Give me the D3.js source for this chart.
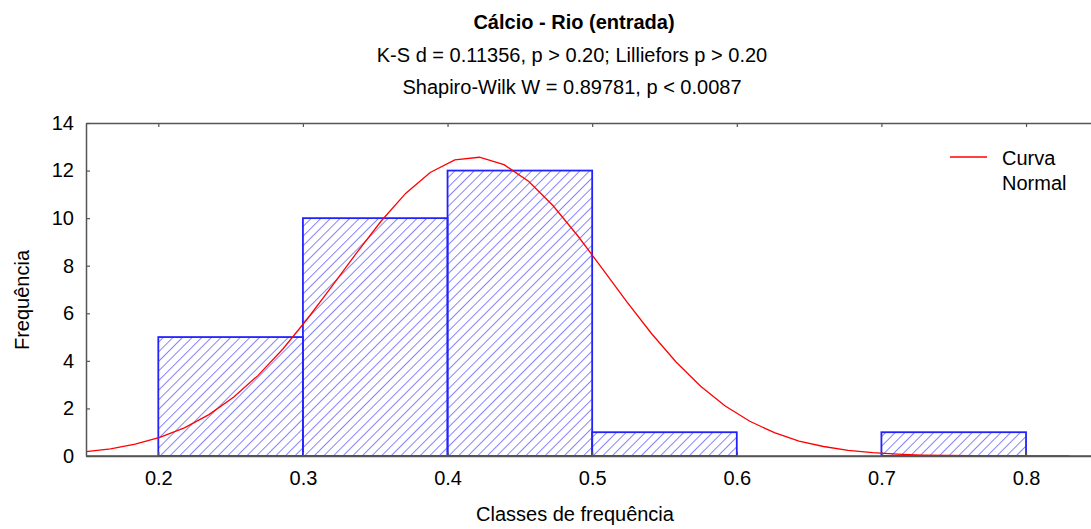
<!DOCTYPE html>
<html>
<head>
<meta charset="utf-8">
<script src="https://cdn.jsdelivr.net/npm/d3@7"></script>
<style>
  body { margin: 0; background: #fff; }
  svg text { font-family: "Liberation Sans", Arial, sans-serif; fill: #000; }
</style>
</head>
<body>
<svg id="chart" width="1091" height="529"></svg>
<script>
// Histogram classes (lower edge of each class) and their frequencies.
var classStart = [0.2, 0.3, 0.4, 0.5, 0.6, 0.7];
var classWidth = 0.1;
var counts = [5, 10, 12, 1, 0, 1];

// Fitted normal curve.
var curveX = [0.150, 0.167, 0.184, 0.201, 0.218, 0.235, 0.252, 0.269, 0.286, 0.303,
              0.320, 0.337, 0.354, 0.371, 0.388, 0.405, 0.422, 0.439, 0.456, 0.473,
              0.490, 0.507, 0.524, 0.541, 0.558, 0.575, 0.592, 0.609, 0.626, 0.643,
              0.660, 0.677, 0.694, 0.711, 0.728, 0.745, 0.762, 0.779, 0.796, 0.813, 0.830];
var curveY = [0.18, 0.30, 0.50, 0.78, 1.18, 1.74, 2.47, 3.39, 4.49, 5.76,
              7.13, 8.53, 9.87, 11.04, 11.92, 12.45, 12.56, 12.25, 11.55, 10.52,
              9.26, 7.88, 6.48, 5.15, 3.95, 2.93, 2.10, 1.46, 0.98, 0.63,
              0.40, 0.24, 0.14, 0.08, 0.04, 0.02, 0.01, 0.006, 0.003, 0.001, 0.0005];

var xTicks = [0.2, 0.3, 0.4, 0.5, 0.6, 0.7, 0.8];
var yTicks = [0, 2, 4, 6, 8, 10, 12, 14];

var titleLines = ['K-S d = 0.11356, p > 0.20; Lilliefors p > 0.20',
                  'Shapiro-Wilk W = 0.89781, p < 0.0087'];

var svg = d3.select('#chart');
var plotLeft = 86, plotRight = 1091, plotTop = 123, plotBottom = 456;

var x = d3.scaleLinear().domain([0.15, 0.8 + (plotRight - 1026) / 1447]).range([plotLeft, plotRight]);
var y = d3.scaleLinear().domain([0, 14]).range([plotBottom, plotTop]);

// Hatch pattern for the bars.
var defs = svg.append('defs');
var pat = defs.append('pattern')
  .attr('id', 'hatch')
  .attr('patternUnits', 'userSpaceOnUse')
  .attr('width', 6.8)
  .attr('height', 6.8)
  .attr('patternTransform', 'rotate(45)');
pat.append('line')
  .attr('x1', 0).attr('y1', 0)
  .attr('x2', 0).attr('y2', 6.8)
  .attr('stroke', '#4545ff')
  .attr('stroke-width', 1.3);

defs.append('clipPath').attr('id', 'plot-clip')
  .append('rect')
  .attr('x', plotLeft).attr('y', plotTop)
  .attr('width', plotRight - plotLeft).attr('height', plotBottom - plotTop);

// Bars.
var bars = classStart.map(function(s, i) { return { x0: s, x1: s + classWidth, n: counts[i] }; })
  .filter(function(d) { return d.n > 0; });

svg.append('g').selectAll('rect')
  .data(bars)
  .enter().append('rect')
    .attr('x', function(d) { return x(d.x0); })
    .attr('y', function(d) { return y(d.n); })
    .attr('width', function(d) { return x(d.x1) - x(d.x0); })
    .attr('height', function(d) { return y(0) - y(d.n); })
    .attr('fill', 'url(#hatch)')
    .attr('stroke', '#2222ff')
    .attr('stroke-width', 1.8);

// Normal curve.
var line = d3.line()
  .x(function(d, i) { return x(curveX[i]); })
  .y(function(d) { return y(d); });

svg.append('path')
  .datum(curveY)
  .attr('clip-path', 'url(#plot-clip)')
  .attr('d', line)
  .attr('fill', 'none')
  .attr('stroke', '#ff0000')
  .attr('stroke-width', 1.3);

// Axes.
var axisColor = '#555';
var gy = svg.append('g')
  .attr('transform', 'translate(' + plotLeft + ',0)')
  .call(d3.axisLeft(y).tickValues(yTicks).tickSize(-4).tickSizeOuter(0).tickPadding(12));
var gx = svg.append('g')
  .attr('transform', 'translate(0,' + plotBottom + ')')
  .call(d3.axisBottom(x).tickValues(xTicks).tickFormat(d3.format('.1f'))
    .tickSize(-4).tickSizeOuter(0).tickPadding(15));
var gt = svg.append('g')
  .attr('transform', 'translate(0,' + plotTop + ')')
  .call(d3.axisTop(x).tickValues(xTicks).tickFormat('')
    .tickSize(-4).tickSizeOuter(0));

[gx, gy, gt].forEach(function(g) {
  g.selectAll('.domain').attr('stroke', axisColor).attr('stroke-width', 1.5);
  g.selectAll('.tick line').attr('stroke', axisColor).attr('stroke-width', 1.2);
  g.selectAll('text').attr('font-size', 20).attr('fill', '#000')
    .attr('font-family', '"Liberation Sans", Arial, sans-serif');
});

// Baseline runs right to the edge of the picture.
svg.append('line')
  .attr('x1', plotLeft).attr('x2', plotRight)
  .attr('y1', plotBottom).attr('y2', plotBottom)
  .attr('stroke', axisColor)
  .attr('stroke-width', 1.5);

// Titles.
svg.append('text')
  .attr('x', 574).attr('y', 29)
  .attr('text-anchor', 'middle')
  .attr('font-size', 20)
  .attr('font-weight', 'bold')
  .text('Cálcio - Rio (entrada)');

svg.selectAll('.subtitle')
  .data(titleLines)
  .enter().append('text')
    .attr('class', 'subtitle')
    .attr('x', 572)
    .attr('y', function(d, i) { return 62 + i * 32; })
    .attr('text-anchor', 'middle')
    .attr('font-size', 20)
    .text(function(d) { return d; });

svg.append('text')
  .attr('x', 575).attr('y', 521)
  .attr('text-anchor', 'middle')
  .attr('font-size', 20)
  .text('Classes de frequência');

svg.append('text')
  .attr('transform', 'translate(29,300) rotate(-90)')
  .attr('text-anchor', 'middle')
  .attr('font-size', 20)
  .text('Frequência');

// Legend.
var legend = svg.append('g');
legend.append('line')
  .attr('x1', 950).attr('x2', 987)
  .attr('y1', 157).attr('y2', 157)
  .attr('stroke', '#ff0000')
  .attr('stroke-width', 1.3);
legend.append('text').attr('x', 1002).attr('y', 165).attr('font-size', 20).text('Curva');
legend.append('text').attr('x', 1002).attr('y', 190).attr('font-size', 20).text('Normal');
</script>
</body>
</html>
